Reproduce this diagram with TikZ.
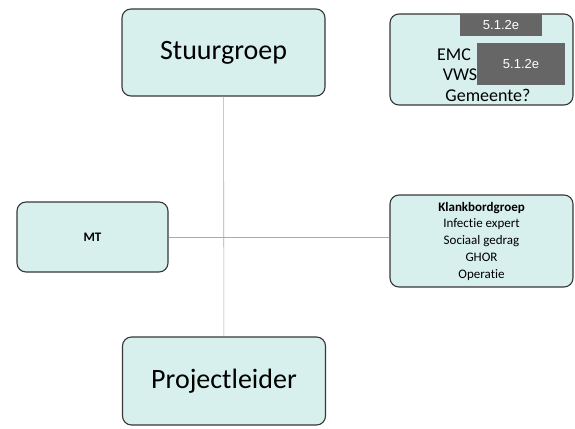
\documentclass[tikz,border=0pt]{standalone}
\usepackage{fontspec}
\setmainfont[Ligatures=NoCommon]{Carlito}
\newfontfamily\arialfont{Liberation Sans}
\usetikzlibrary{positioning}
\definecolor{boxfill}{RGB}{215,240,237}
\definecolor{boxline}{RGB}{55,55,55}
\definecolor{redact}{RGB}{102,102,102}
\definecolor{linkgray}{RGB}{170,170,170}
\tikzstyle{block} = [draw=boxline, line width=1.1pt, fill=boxfill, rounded corners=9pt, rectangle, inner sep=0pt, text centered]
\tikzstyle{redactbox} = [fill=redact, text=white, inner sep=0pt, font=\arialfont\fontsize{13}{13}\selectfont]
\tikzstyle{link} = [linkgray, line width=0.6pt]

\begin{document}
\begin{tikzpicture}[x=1pt,y=-1pt]
    \useasboundingbox (0,0) rectangle (575,428);

    \node[block, minimum width=203pt, minimum height=87pt, font=\fontsize{28}{30}\selectfont] (stuur) at (223.5,52.5) {Stuurgroep};
    \node[block, minimum width=203pt, minimum height=88pt, font=\fontsize{28}{30}\selectfont] (proj)  at (224,381) {Projectleider};
    \node[block, minimum width=151pt, minimum height=70pt, font=\bfseries\fontsize{13}{14}\selectfont] (mt) at (92.5,237) {MT};
    \node[block, minimum width=183pt, minimum height=92pt, align=center, font=\fontsize{13}{16.75}\selectfont] (klank) at (481.5,241)
        {\textbf{Klankbordgroep}\\Infectie expert\\Sociaal gedrag\\GHOR\\Operatie};
    \node[block, minimum width=183pt, minimum height=91pt] (emc) at (481.5,59.5) {};

    % partners in de stuurgroep
    \node[font=\fontsize{18}{18}\selectfont] (emcl) at (454,55) {EMC};
    \node[font=\fontsize{18}{18}\selectfont] (vws)  at (460,75) {VWS};
    \node[font=\fontsize{18}{18}\selectfont] (gem)  at (488,95) {Gemeente?};

    % weggelakte namen
    \node[redactbox, minimum width=82pt, minimum height=22pt] (red1) at (501,25) {5.1.2e};
    \node[redactbox, minimum width=88pt, minimum height=42pt] (red2) at (521,64) {5.1.2e};

    \draw[link] (stuur) -- (proj);
    \draw[link] (mt.east) -- (mt.east -| klank.west);

\end{tikzpicture}
\end{document}
